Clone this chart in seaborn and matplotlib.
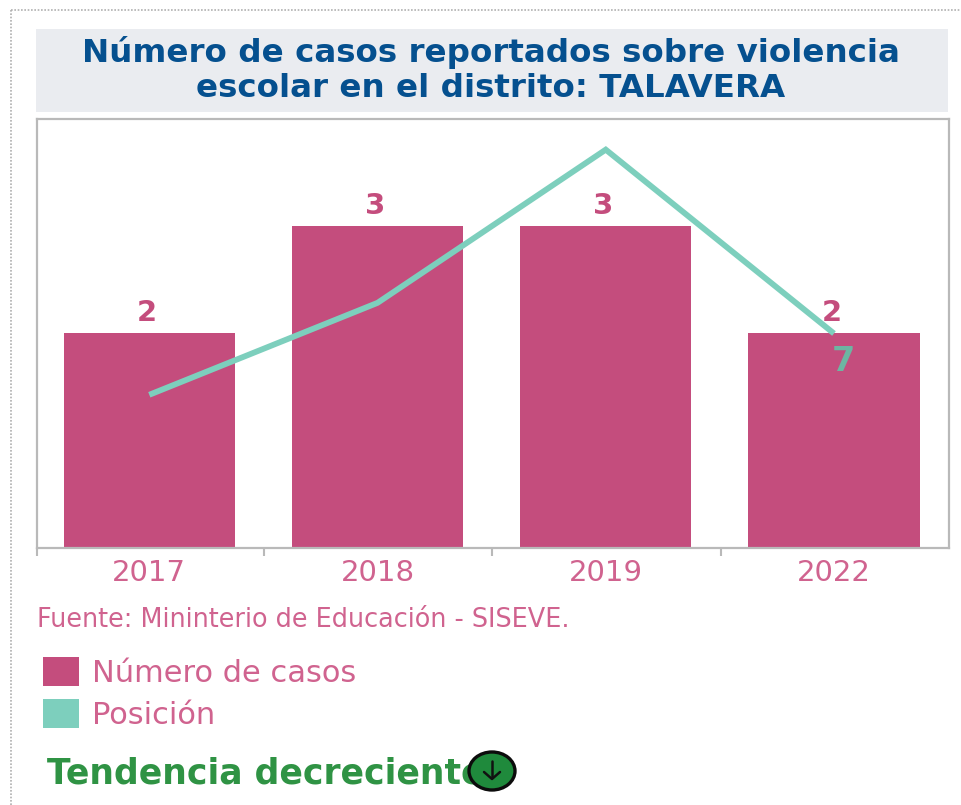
import numpy as np
import pandas as pd
import matplotlib
matplotlib.use("Agg")
import matplotlib.pyplot as plt
from matplotlib.patches import Patch, Rectangle, Ellipse
from matplotlib.lines import Line2D
import seaborn as sns

years = ["2017", "2018", "2019", "2022"]
casos = [2, 3, 3, 2]
posicion = [5, 8, 13, 7]
title = "Número de casos reportados sobre violencia\nescolar en el distrito: TALAVERA"
source = "Fuente: Mininterio de Educación - SISEVE."
legend_labels = ["Número de casos", "Posición"]
trend = "Tendencia decreciente"

PINK = "#c44d7d"
PINK_TXT = "#d0638f"
TEAL = "#7dcfbd"
GRAY = "#b9b9b9"
W, H = 961, 805

sns.set_theme(style="white")
plt.rcParams["font.family"] = ["DejaVu Sans"]

fig = plt.figure(figsize=(W / 100, H / 100), dpi=100, facecolor="white")


def fx(x):
    return x / W


def fy(y):
    return 1 - y / H


# dotted page border
fig.add_artist(Line2D([fx(11), fx(11)], [fy(10), 0], color="#b0b0b0", lw=1.2, ls=(0, (1, 1))))
fig.add_artist(Line2D([fx(11), 1], [fy(10), fy(10)], color="#b0b0b0", lw=1.2, ls=(0, (1, 1))))

# title band
fig.add_artist(Rectangle((fx(36), fy(112)), fx(912), 83 / H, transform=fig.transFigure,
                         facecolor="#eaecf0", edgecolor="none"))
fig.text(fx(491), fy(70), title, ha="center", va="center", fontsize=23.4, fontweight="bold",
         color="#05508f", linespacing=1.19)

ax = fig.add_axes([fx(37), fy(548), fx(912), 429 / H])
df = pd.DataFrame({"year": years, "casos": casos, "posicion": posicion})
sns.barplot(data=df, x="year", y="casos", color=PINK, saturation=1, width=0.75, ax=ax, zorder=2,
            linewidth=0, edgecolor="none")
ax.set_xlim(-0.492, 3.504)
ax.set_ylim(0, 4)
ax.set_xlabel("")
ax.set_ylabel("")
ax.set_yticks([])
ax.set_xticks([-0.492, 0.503, 1.5, 2.505])
ax.set_xticklabels([])
ax.set_xticks(range(len(years)), minor=True)
ax.set_xticklabels(years, minor=True)
ax.tick_params(axis="x", which="major", length=6, width=1.5, color=GRAY, bottom=True)
ax.tick_params(axis="x", which="minor", length=0, pad=7.6, labelsize=21, labelcolor=PINK_TXT)
for s in ax.spines.values():
    s.set_visible(True)
    s.set_color(GRAY)
    s.set_linewidth(1.6)

ax2 = ax.twinx()
sns.lineplot(x=np.arange(len(years)), y=posicion, color=TEAL, lw=4.2, ax=ax2, zorder=3,
             solid_capstyle="butt", solid_joinstyle="miter")
ax2.set_ylim(0, 14)
ax2.set_yticks([])
ax2.set_ylabel("")
for s in ax2.spines.values():
    s.set_visible(False)

for i, v in enumerate(casos):
    ax2.annotate(str(v), xy=(i, v * 14 / 4), xytext=(-1.5, 14.5), textcoords="offset points",
                 ha="center", va="center", fontsize=21, fontweight="bold", color=PINK, zorder=4)
ax2.annotate(str(posicion[-1]), xy=(3, posicion[-1]), xytext=(7, -20), textcoords="offset points",
             ha="center", va="center", fontsize=24, fontweight="bold", color="#6db5a2", zorder=5)

fig.text(fx(37), fy(620), source, ha="left", va="center", fontsize=18.4, color=PINK_TXT)

handles = [Patch(facecolor=PINK, edgecolor="none"), Patch(facecolor=TEAL, edgecolor="none")]
fig.legend(handles, legend_labels, loc="upper left", bbox_to_anchor=(fx(43), fy(657)),
           bbox_transform=fig.transFigure, frameon=False, fontsize=22, labelcolor=PINK_TXT,
           handlelength=1.18, handleheight=1.08, handletextpad=0.42, labelspacing=0.37,
           borderpad=0, borderaxespad=0)

fig.text(fx(47), fy(773), trend, ha="left", va="center", fontsize=24.9, fontweight="bold",
         color="#2f9344")

fig.add_artist(Ellipse((fx(492), fy(771)), 46 / W, 38 / H, transform=fig.transFigure,
                       facecolor="#1f8a3c", edgecolor="#0c0c0c", lw=2.4, zorder=10))
fig.add_artist(Line2D([fx(492), fx(492)], [fy(761), fy(777)], color="#111111", lw=1.8, zorder=11))
fig.add_artist(Line2D([fx(484), fx(492), fx(500)], [fy(772), fy(779), fy(772)], color="#111111",
                      lw=1.8, zorder=11))

fig.savefig("out.png", dpi=100, facecolor="white")
